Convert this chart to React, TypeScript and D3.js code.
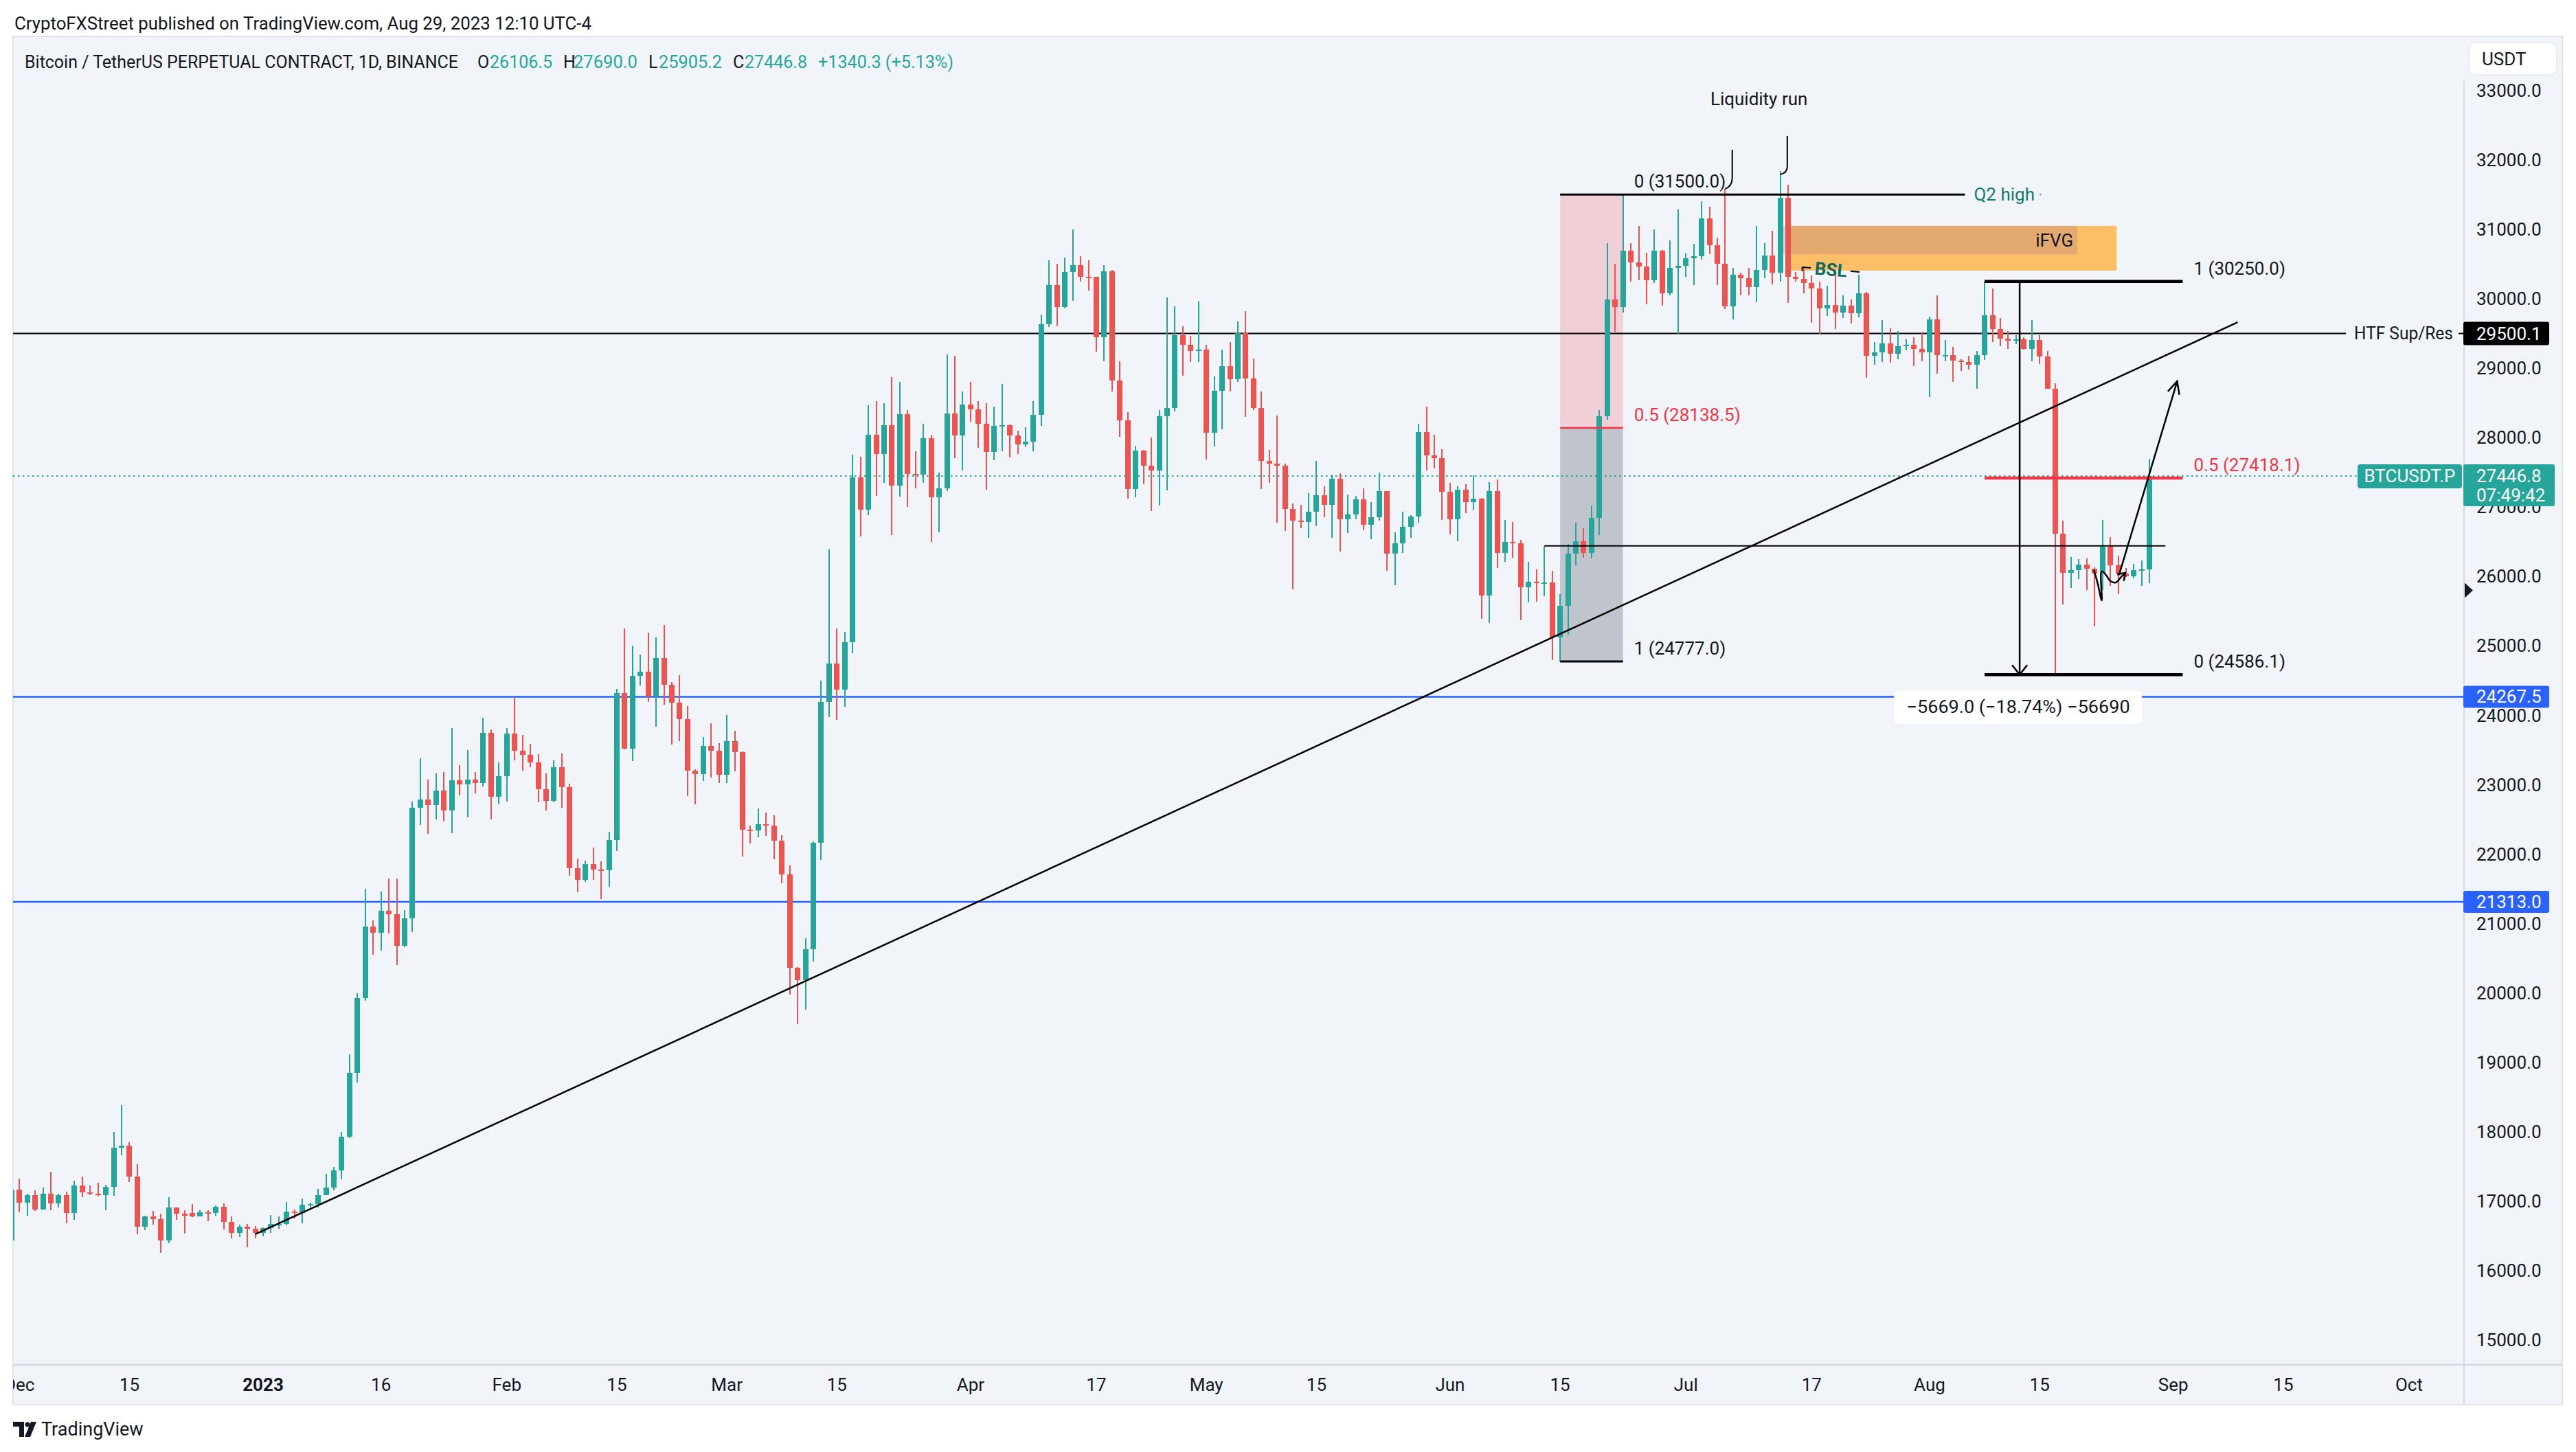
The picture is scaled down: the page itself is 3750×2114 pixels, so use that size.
import React from "react";
import * as d3 from "d3";

type Bar = [number, number, number, number]; // open, high, low, close

const firstDay = "2022-11-30";
const nov2022: Bar[] = [[16440, 17250, 16401, 17165]];
const dec2022: Bar[] = [
  [17165, 17330, 16840, 16978], [16978, 17105, 16790, 17092], [17092, 17158, 16858, 16885],
  [16885, 17202, 16878, 17105], [17105, 17425, 16867, 16966], [16966, 17107, 16906, 17089],
  [17089, 17142, 16678, 16836], [16836, 17299, 16733, 17224], [17224, 17360, 17058, 17128],
  [17128, 17227, 17092, 17110], [17110, 17270, 17071, 17085], [17085, 17241, 16872, 17209],
  [17209, 18000, 17080, 17775], [17775, 18387, 17660, 17804], [17804, 17847, 17275, 17356],
  [17356, 17531, 16527, 16633], [16633, 16796, 16584, 16777], [16777, 16864, 16663, 16739],
  [16739, 16818, 16256, 16439], [16439, 17061, 16398, 16906], [16906, 16906, 16733, 16817],
  [16820, 16866, 16530, 16790], [16830, 16959, 16768, 16778], [16778, 16869, 16777, 16837],
  [16837, 16867, 16713, 16831], [16831, 16944, 16789, 16919], [16919, 16972, 16592, 16706],
  [16706, 16781, 16465, 16548], [16548, 16664, 16488, 16633], [16633, 16677, 16333, 16607],
  [16607, 16644, 16470, 16543],
];
const jan2023: Bar[] = [
  [16543, 16628, 16499, 16616], [16616, 16799, 16548, 16673], [16673, 16779, 16605, 16674],
  [16674, 16991, 16656, 16852], [16852, 16885, 16753, 16828], [16828, 17042, 16680, 16951],
  [16951, 16975, 16908, 16955], [16955, 17176, 16911, 17092], [17092, 17398, 17090, 17196],
  [17196, 17490, 17160, 17446], [17446, 17995, 17320, 17934], [17934, 19117, 17910, 18846],
  [18846, 19995, 18714, 19930], [19930, 21500, 19889, 20954], [20954, 21050, 20551, 20871],
  [20871, 21466, 20611, 21185], [21185, 21650, 20856, 21133], [21133, 21650, 20407, 20677],
  [20677, 21191, 20659, 21072], [21072, 22755, 20881, 22667], [22667, 23378, 22422, 22784],
  [22784, 23078, 22292, 22707], [22707, 23165, 22500, 22917], [22917, 23180, 22467, 22632],
  [22632, 23816, 22300, 23060], [23060, 23282, 22850, 23009], [23009, 23500, 22534, 23074],
  [23074, 23186, 22878, 23023], [23023, 23960, 22976, 23743], [23743, 23800, 22500, 22827],
  [22827, 23320, 22715, 23125],
];
const feb2023: Bar[] = [
  [23125, 23812, 22760, 23733], [23733, 24255, 23352, 23488], [23488, 23715, 23205, 23432],
  [23432, 23590, 23251, 23326], [23326, 23443, 22745, 22933], [22933, 23161, 22625, 22763],
  [22763, 23350, 22745, 23250], [23250, 23453, 22665, 22963], [22963, 23011, 21688, 21796],
  [21796, 21938, 21451, 21625], [21625, 21906, 21599, 21862], [21862, 22090, 21630, 21783],
  [21783, 21894, 21351, 21773], [21773, 22322, 21532, 22200], [22200, 24380, 22048, 24324],
  [24324, 25250, 23505, 23517], [23517, 24999, 23339, 24569], [24569, 24879, 24433, 24631],
  [24631, 25192, 24192, 24271], [24271, 25121, 23840, 24830], [24830, 25300, 24148, 24436],
  [24436, 24476, 23574, 24183], [24183, 24580, 23627, 23947], [23947, 24132, 22841, 23198],
  [23198, 23219, 22722, 23157], [23157, 23689, 23059, 23555], [23555, 23886, 23105, 23492],
  [23492, 23600, 23020, 23141],
];
const mar2023: Bar[] = [
  [23141, 24000, 23020, 23628], [23628, 23780, 23195, 23466], [23466, 23476, 21971, 22354],
  [22354, 22410, 22157, 22346], [22346, 22662, 22247, 22430], [22430, 22602, 22258, 22409],
  [22409, 22557, 21927, 22197], [22197, 22275, 21580, 21705], [21705, 21835, 19974, 20363],
  [20363, 20369, 19549, 20187], [20187, 20792, 19760, 20632], [20632, 22185, 20450, 22163],
  [22163, 24500, 21918, 24197], [24197, 26386, 23976, 24746], [24746, 25250, 23930, 24375],
  [24375, 25198, 24120, 25055], [25055, 27756, 24890, 27423], [27423, 27725, 26578, 26965],
  [26965, 28468, 26888, 28038], [28038, 28528, 27156, 27767], [27767, 28500, 27353, 28175],
  [28175, 28868, 26601, 27308], [27308, 28800, 27154, 28333], [28333, 28400, 27000, 27476],
  [27476, 27800, 27266, 27470], [27470, 28200, 27352, 27994], [27994, 28044, 26500, 27140],
  [27140, 27500, 26631, 27268], [27268, 29200, 27230, 28350], [28350, 29179, 27705, 28033],
  [28033, 28660, 27525, 28478],
];
const apr2023: Bar[] = [
  [28478, 28805, 28226, 28411], [28411, 28530, 27856, 28200], [28200, 28494, 27250, 27790],
  [27790, 28444, 27675, 28168], [28168, 28775, 27805, 28175], [28175, 28190, 27711, 28033],
  [28033, 28100, 27767, 27906], [27906, 28154, 27859, 27938], [27938, 28530, 27800, 28323],
  [28323, 29770, 28170, 29637], [29637, 30550, 29590, 30201], [30201, 30500, 29600, 29884],
  [29884, 30595, 29866, 30387], [30387, 31000, 29966, 30485], [30485, 30610, 30250, 30318],
  [30318, 30549, 30120, 30315], [30315, 30320, 29240, 29445], [29445, 30485, 29100, 30397],
  [30397, 30411, 28660, 28822], [28822, 29096, 28010, 28245], [28245, 28371, 27125, 27262],
  [27262, 27882, 27140, 27817], [27817, 27820, 27331, 27591], [27591, 28000, 26942, 27525],
  [27525, 28400, 27020, 28307], [28307, 30020, 27235, 28422], [28422, 29890, 28381, 29473],
  [29473, 29599, 28891, 29340], [29340, 29463, 29088, 29248], [29248, 29960, 29091, 29268],
];
const may2023: Bar[] = [
  [29268, 29338, 27680, 28068], [28068, 28879, 27872, 28669], [28669, 29266, 28120, 29026],
  [29026, 29379, 28667, 28838], [28838, 29677, 28800, 29506], [29506, 29820, 28300, 28848],
  [28848, 29138, 28395, 28431], [28431, 28664, 27262, 27669], [27669, 27820, 27350, 27628],
  [27628, 28322, 26777, 27599], [27599, 27623, 26655, 26968], [26968, 27055, 25811, 26805],
  [26805, 27030, 26700, 26784], [26784, 27200, 26560, 26930], [26930, 27666, 26721, 27172],
  [27172, 27299, 26856, 27033], [27033, 27466, 26555, 27405], [27405, 27485, 26361, 26821],
  [26821, 27183, 26630, 26890], [26890, 27156, 26825, 27112], [27112, 27265, 26666, 26747],
  [26747, 27074, 26533, 26851], [26851, 27495, 26800, 27225], [27225, 27225, 26080, 26334],
  [26334, 26640, 25871, 26476], [26476, 26932, 26343, 26719], [26719, 26888, 26555, 26868],
  [26868, 28200, 26770, 28085], [28085, 28447, 27524, 27745], [27745, 28040, 27554, 27701],
  [27701, 27834, 26815, 27220],
];
const jun2023: Bar[] = [
  [27220, 27350, 26605, 26820], [26820, 27300, 26511, 27249], [27249, 27333, 26916, 27069],
  [27069, 27455, 26951, 27116], [27116, 27129, 25388, 25728], [25728, 27355, 25333, 27230],
  [27230, 27400, 26123, 26339], [26339, 26810, 26210, 26498], [26498, 26783, 26269, 26477],
  [26477, 26530, 25371, 25841], [25841, 26210, 25631, 25925], [25925, 26098, 25640, 25902],
  [25902, 26440, 25712, 25918], [25918, 26078, 24800, 25125], [25125, 25749, 24777, 25576],
  [25576, 26471, 25160, 26327], [26327, 26777, 26160, 26511], [26511, 26692, 26265, 26338],
  [26338, 27020, 26256, 26844], [26844, 28400, 26600, 28307], [28307, 30800, 28260, 29994],
  [29994, 30500, 29525, 29885], [29885, 31500, 29800, 30688], [30688, 30800, 30250, 30527],
  [30527, 31046, 30270, 30462], [30462, 30662, 29920, 30267], [30267, 31000, 30225, 30689],
  [30689, 30704, 29900, 30077], [30077, 30845, 30050, 30446], [30446, 31282, 29500, 30472],
];
const jul2023: Bar[] = [
  [30472, 30656, 30320, 30585], [30585, 30796, 30200, 30617], [30617, 31400, 30560, 31156],
  [31156, 31325, 30640, 30767], [30767, 30877, 30200, 30505], [30505, 31580, 29850, 29895],
  [29895, 30449, 29700, 30346], [30346, 30380, 30050, 30292], [30292, 30444, 30050, 30171],
  [30171, 31045, 29950, 30414], [30414, 30800, 30300, 30620], [30620, 30983, 30208, 30380],
  [30380, 31840, 30250, 31454], [31454, 31640, 29940, 30312], [30312, 30390, 30250, 30289],
  [30289, 30460, 30075, 30232], [30232, 30336, 29658, 30144], [30144, 30244, 29500, 29859],
  [29859, 30186, 29756, 29910], [29910, 30400, 29560, 29800], [29800, 30050, 29727, 29900],
  [29900, 29988, 29640, 29790], [29790, 30350, 29730, 30083], [30083, 30100, 28861, 29176],
  [29176, 29375, 29047, 29228], [29228, 29690, 29090, 29354], [29354, 29570, 29080, 29210],
  [29210, 29530, 29125, 29314], [29314, 29414, 29260, 29340], [29340, 29450, 29035, 29275],
  [29275, 29525, 29100, 29230],
];
const aug2023: Bar[] = [
  [29230, 29740, 28585, 29705], [29705, 30047, 28921, 29186], [29186, 29409, 29100, 29193],
  [29193, 29312, 28800, 29114], [29114, 29128, 28958, 29085], [29085, 29180, 28981, 29053],
  [29053, 29250, 28700, 29188], [29188, 30250, 29115, 29766], [29766, 30150, 29380, 29562],
  [29562, 29725, 29320, 29427], [29427, 29530, 29280, 29397], [29397, 29480, 29350, 29415],
  [29415, 29449, 29265, 29282], [29282, 29690, 29100, 29408], [29408, 29480, 29060, 29170],
  [29170, 29245, 28700, 28701], [28701, 28780, 24586.1, 26621], [26621, 26800, 25600, 26049],
  [26049, 26280, 25830, 26096], [26096, 26250, 25960, 26170], [26170, 26260, 25800, 26110],
  [26110, 26135, 25280, 26040], [26040, 26810, 25800, 26431], [26431, 26570, 25860, 26163],
  [26163, 26300, 25750, 26047], [26047, 26125, 25990, 26004], [26004, 26180, 25970, 26089],
  [26089, 26230, 25860, 26106.5], [26106.5, 27690, 25905.2, 27446.8],
];
const months: Bar[][] = [nov2022, dec2022, jan2023, feb2023, mar2023, apr2023, may2023, jun2023, jul2023, aug2023];

const priceTicks = [15000, 16000, 17000, 18000, 19000, 20000, 21000, 22000, 23000, 24000,
  25000, 26000, 27000, 28000, 29000, 30000, 31000, 32000, 33000];
const timeTicks: [string, string][] = [
  ["2022-12-01", "Dec"], ["2022-12-15", "15"], ["2023-01-01", "2023"], ["2023-01-16", "16"],
  ["2023-02-01", "Feb"], ["2023-02-15", "15"], ["2023-03-01", "Mar"], ["2023-03-15", "15"],
  ["2023-04-01", "Apr"], ["2023-04-17", "17"], ["2023-05-01", "May"], ["2023-05-15", "15"],
  ["2023-06-01", "Jun"], ["2023-06-15", "15"], ["2023-07-01", "Jul"], ["2023-07-17", "17"],
  ["2023-08-01", "Aug"], ["2023-08-15", "15"], ["2023-09-01", "Sep"], ["2023-09-15", "15"],
  ["2023-10-01", "Oct"],
];

// levels and drawings (x in days since 2023-01-01, y in price)
const htfLevel = 29500.1;
const blueLevels = [24267.5, 21313.0];
const lastPrice = 27446.8;
const markerPrice = 25800;
const rangeLine = { x0: 163, x1: 242, p: 26440 };
const trendPts: [number, number][] = [[-1, 16525], [251.2, 29662]];
const fibA = { x0: 165, x1: 173, ext: 216.5, levels: [31500, 28138.5, 24777], labels: ["0 (31500.0)", "0.5 (28138.5)", "1 (24777.0)"] };
const fibB = { x0: 219, x1: 244.2, levels: [30250, 27418.1, 24586.1], labels: ["1 (30250.0)", "0.5 (27418.1)", "0 (24586.1)"] };
const measure = { x: 223.46, top: 30250, bottom: 24586.1, label: "\u22125669.0 (\u221218.74%) \u221256690" };
const ifvgOuter = { x0: 194, x1: 235.8, top: 31050, bottom: 30405 };
const ifvgInner = { x0: 193, x1: 230.8, top: 31050, bottom: 30643 };
const bslPts: [number, number][] = [[195.8, 30455], [203.1, 30386]];
const liqText: [number, number] = [190.3, 32879];
const bracketA: [number, number][] = [[186.9, 32146], [186.9, 31741], [186.0, 31583]];
const bracketB: [number, number][] = [[193.9, 32344], [193.9, 31909], [193.0, 31790]];
const arrowPts: [number, number][] = [[236.1, 26022], [243.5, 28812]];
const squiggle: [number, number][] = [
  [232.9, 26092], [233.4, 25894], [233.9, 25656], [233.9, 26072], [234.5, 26013],
  [235.0, 25933], [235.7, 25914], [236.3, 25983], [236.9, 26052],
];

const W = 3750, H = 2114;
const PL = 19, PT = 53, PR = 3587, PB = 1987, PANEL_R = 3730, PANEL_B = 2045;
const UP = "#26A69A", DN = "#EF5350", INK = "#131722", BLUE = "#2962FF", FRED = "#F23645", TEALTXT = "#127A6B";
const BG = "#F1F5FA";
const FONT = "Roboto, 'Noto Sans', Arial, sans-serif";
const DAY = 864e5;
const JAN1 = Date.UTC(2023, 0, 1);
const parse = (s: string) => new Date(s + "T00:00:00Z");

export default function App() {
  const x = d3.scaleUtc().domain([parse("2023-01-01"), parse("2023-10-01")]).range([383, 3507]);
  const y = d3.scaleLinear().domain([15000, 33000]).range([1951.1, 131.74]);
  const X = (n: number) => x(new Date(JAN1 + n * DAY));
  const start = parse(firstDay).getTime();
  const candles = months.flat().map((b, i) => ({ d: new Date(start + i * DAY), o: b[0], h: b[1], l: b[2], c: b[3] }));
  const bw = 8;
  const fmt = d3.format(".1f");

  const line = d3.line<[number, number]>().x((p) => X(p[0])).y((p) => y(p[1]));
  const squigglePath = d3.line<[number, number]>().x((p) => X(p[0])).y((p) => y(p[1])).curve(d3.curveCatmullRom)(squiggle) || "";

  // arrowhead helper
  const head = (x1: number, y1: number, x2: number, y2: number, len: number, ang: number) => {
    const a = Math.atan2(y1 - y2, x1 - x2);
    const p1 = [x2 + len * Math.cos(a + ang), y2 + len * Math.sin(a + ang)];
    const p2 = [x2 + len * Math.cos(a - ang), y2 + len * Math.sin(a - ang)];
    return `M${p1[0]},${p1[1]} L${x2},${y2} L${p2[0]},${p2[1]}`;
  };
  const ax1 = X(arrowPts[0][0]), ay1 = y(arrowPts[0][1]), ax2 = X(arrowPts[1][0]), ay2 = y(arrowPts[1][1]);
  const sqEnd = squiggle[squiggle.length - 1], sqPrev = squiggle[squiggle.length - 3];

  const bslX0 = X(bslPts[0][0]), bslY0 = y(bslPts[0][1]), bslX1 = X(bslPts[1][0]), bslY1 = y(bslPts[1][1]);
  const lerp = (t: number) => [bslX0 + (bslX1 - bslX0) * t, bslY0 + (bslY1 - bslY0) * t];
  const bslAng = (Math.atan2(bslY1 - bslY0, bslX1 - bslX0) * 180) / Math.PI;
  const bslMid = lerp(0.5);

  const bracket = (pts: [number, number][]) => {
    const [a, b, c] = pts;
    return `M${X(a[0])},${y(a[1])} L${X(b[0])},${y(b[1])} Q${X(b[0])},${(y(b[1]) + y(c[1])) / 2 + 4} ${X(c[0])},${y(c[1])}`;
  };

  const mx = X(measure.x), myT = y(measure.top), myB = y(measure.bottom);
  const htfY = y(htfLevel), lastY = y(lastPrice);

  return (
    <svg width={W} height={H} viewBox={`0 0 ${W} ${H}`} style={{ display: "block", position: "absolute", left: 0, top: 0 }} fontFamily={FONT}>
      <defs>
        <clipPath id="plot"><rect x={PL} y={PT} width={PR - PL} height={PB - PT} /></clipPath>
        <clipPath id="taxis"><rect x={PL} y={PB} width={PR - PL} height={PANEL_B - PB} /></clipPath>
      </defs>
      <rect x={0} y={0} width={W} height={H} fill="#ffffff" />
      <text x={21} y={43} fontSize={25} fill={INK} textLength={840} lengthAdjust="spacingAndGlyphs">CryptoFXStreet published on TradingView.com, Aug 29, 2023 12:10 UTC-4</text>

      {/* panel */}
      <rect x={PL} y={PT} width={PANEL_R - PL} height={PANEL_B - PT} fill={BG} stroke="#E0E3EB" strokeWidth={2} />

      <g clipPath="url(#plot)">
        {/* fib A boxes */}
        <rect x={X(fibA.x0)} y={y(fibA.levels[0])} width={X(fibA.x1) - X(fibA.x0)} height={y(fibA.levels[1]) - y(fibA.levels[0])} fill="rgba(242,54,69,0.2)" />
        <rect x={X(fibA.x0)} y={y(fibA.levels[1])} width={X(fibA.x1) - X(fibA.x0)} height={y(fibA.levels[2]) - y(fibA.levels[1])} fill="rgba(120,123,134,0.4)" />
        {/* iFVG */}
        <rect x={X(ifvgOuter.x0)} y={y(ifvgOuter.top)} width={X(ifvgOuter.x1) - X(ifvgOuter.x0)} height={y(ifvgOuter.bottom) - y(ifvgOuter.top)} fill="#FCBE66" />
        <rect x={X(ifvgInner.x0)} y={y(ifvgInner.top)} width={X(ifvgInner.x1) - X(ifvgInner.x0)} height={y(ifvgInner.bottom) - y(ifvgInner.top)} fill="rgba(141,95,140,0.22)" />
        <text x={X(ifvgInner.x1) - 6} y={(y(ifvgInner.top) + y(ifvgInner.bottom)) / 2} dy="0.35em" textAnchor="end" fontSize={26} fill={INK}>iFVG</text>

        {/* horizontal levels */}
        {blueLevels.map((p) => (
          <line key={p} x1={PL} x2={PR} y1={y(p)} y2={y(p)} stroke={BLUE} strokeWidth={2.5} />
        ))}
        <line x1={PL} x2={3415} y1={htfY} y2={htfY} stroke="#000" strokeWidth={2} />
        <line x1={3579} x2={PR} y1={htfY} y2={htfY} stroke="#000" strokeWidth={2} />
        <text x={3427} y={htfY} dy="0.35em" fontSize={25} fill={INK} textLength={144} lengthAdjust="spacingAndGlyphs">HTF Sup/Res</text>
        <line x1={PL} x2={3432} y1={lastY} y2={lastY} stroke={UP} strokeWidth={2} strokeDasharray="2.5 4.5" />

        {/* candles */}
        <g shapeRendering="crispEdges">
          {candles.map((k, i) => {
            const cx = Math.round(x(k.d));
            const col = k.c >= k.o ? UP : DN;
            const top = y(Math.max(k.o, k.c));
            const bot = y(Math.min(k.o, k.c));
            return (
              <g key={i}>
                <rect x={cx - 1} y={y(k.h)} width={2} height={Math.max(1, y(k.l) - y(k.h))} fill={col} />
                <rect x={cx - bw / 2} y={top} width={bw} height={Math.max(2, bot - top)} fill={col} />
              </g>
            );
          })}
        </g>

        {/* range high line */}
        <line x1={X(rangeLine.x0)} x2={X(rangeLine.x1)} y1={y(rangeLine.p)} y2={y(rangeLine.p)} stroke="#000" strokeWidth={2} />
        {/* trendline */}
        <path d={line(trendPts) || ""} stroke="#000" strokeWidth={2.5} fill="none" />

        {/* fib A lines & labels */}
        <line x1={X(fibA.x0)} x2={X(fibA.ext)} y1={y(fibA.levels[0])} y2={y(fibA.levels[0])} stroke="#000" strokeWidth={3} />
        <line x1={X(fibA.x0)} x2={X(fibA.x1)} y1={y(fibA.levels[1])} y2={y(fibA.levels[1])} stroke={FRED} strokeWidth={2.5} />
        <line x1={X(fibA.x0)} x2={X(fibA.x1)} y1={y(fibA.levels[2])} y2={y(fibA.levels[2])} stroke="#000" strokeWidth={3} />
        {fibA.levels.map((p, i) => (
          <text key={i} x={X(fibA.x1) + 16} y={y(p) - 19} dy="0.35em" fontSize={26} fill={i === 1 ? FRED : INK}>{fibA.labels[i]}</text>
        ))}
        <text x={X(fibA.ext) + 13} y={y(fibA.levels[0])} dy="0.35em" fontSize={26} fill={TEALTXT}>Q2 high</text>
        <circle cx={X(fibA.ext) + 110} cy={y(fibA.levels[0])} r={1.5} fill="#9AA3AD" />

        {/* fib B lines & labels */}
        {fibB.levels.map((p, i) => (
          <g key={i}>
            <line x1={X(fibB.x0)} x2={X(fibB.x1)} y1={y(p)} y2={y(p)} stroke={i === 1 ? FRED : "#000"} strokeWidth={4.5} />
            <text x={X(fibB.x1) + 16} y={y(p) - 19} dy="0.35em" fontSize={26} fill={i === 1 ? FRED : INK}>{fibB.labels[i]}</text>
          </g>
        ))}

        {/* measurement */}
        <line x1={mx} x2={mx} y1={myT} y2={myB} stroke="#000" strokeWidth={2.5} />
        <path d={`M${mx - 11},${myB - 14} L${mx},${myB} L${mx + 11},${myB - 14}`} stroke="#000" strokeWidth={2.5} fill="none" />
        <rect x={mx - 183} y={myB + 23} width={361} height={48} rx={7} fill="#ffffff" />
        <text x={mx - 2} y={myB + 47} dy="0.35em" textAnchor="middle" fontSize={26} fill={INK} textLength={325} lengthAdjust="spacingAndGlyphs">{measure.label}</text>

        {/* BSL */}
        <line x1={bslX0} y1={bslY0} x2={lerp(0.15)[0]} y2={lerp(0.15)[1]} stroke="#000" strokeWidth={2} />
        <line x1={lerp(0.84)[0]} y1={lerp(0.84)[1]} x2={bslX1} y2={bslY1} stroke="#000" strokeWidth={2} />
        <line x1={bslX0} y1={bslY0} x2={bslX0} y2={bslY0 + 6} stroke="#000" strokeWidth={2} />
        <text x={bslMid[0]} y={bslMid[1]} dy="0.35em" textAnchor="middle" fontSize={26} fontWeight={700} fill="#0B6B5E" transform={`rotate(${bslAng} ${bslMid[0]} ${bslMid[1]})`}>BSL</text>

        {/* liquidity run */}
        <text x={X(liqText[0])} y={y(liqText[1])} dy="0.35em" textAnchor="middle" fontSize={26} fill={INK}>Liquidity run</text>
        <path d={bracket(bracketA)} stroke="#000" strokeWidth={2} fill="none" />
        <path d={bracket(bracketB)} stroke="#000" strokeWidth={2} fill="none" />

        {/* projection arrow and squiggle */}
        <line x1={ax1} y1={ay1} x2={ax2} y2={ay2} stroke="#000" strokeWidth={2.5} />
        <path d={head(ax1, ay1, ax2, ay2, 20, 0.45)} stroke="#000" strokeWidth={2.5} fill="none" />
        <path d={squigglePath} stroke="#000" strokeWidth={2.5} fill="none" />
        <path d={head(X(sqPrev[0]), y(sqPrev[1]), X(sqEnd[0]), y(sqEnd[1]), 12, 0.6)} stroke="#000" strokeWidth={2.5} fill="none" />
      </g>

      {/* axes separators */}
      <line x1={PL} x2={PANEL_R} y1={PB} y2={PB} stroke="#D5DAE1" strokeWidth={3} />
      <line x1={PR} x2={PR} y1={118} y2={PANEL_B} stroke="#D5DAE1" strokeWidth={2} />

      {/* price axis */}
      {priceTicks.map((p) => (
        <text key={p} x={3605} y={y(p)} dy="0.35em" fontSize={26} fill={INK}>{fmt(p)}</text>
      ))}
      <rect x={3594} y={62} width={128} height={47} rx={10} fill="#ffffff" stroke="#E6E9EF" strokeWidth={1.5} />
      <text x={3613} y={86} dy="0.35em" fontSize={26} fill={INK}>USDT</text>

      <rect x={3586} y={htfY - 17} width={125} height={34} rx={3} fill="#000000" />
      <text x={3605} y={htfY} dy="0.35em" fontSize={26} fill="#ffffff">{htfLevel.toFixed(1)}</text>
      {blueLevels.map((p) => (
        <g key={p}>
          <rect x={3586} y={y(p) - 16} width={125} height={32} rx={3} fill={BLUE} />
          <text x={3605} y={y(p)} dy="0.35em" fontSize={26} fill="#ffffff">{p.toFixed(1)}</text>
        </g>
      ))}
      <rect x={3432} y={lastY - 17} width={152} height={35} rx={4} fill={UP} />
      <text x={3508} y={lastY} dy="0.35em" textAnchor="middle" fontSize={26} fill="#ffffff">BTCUSDT.P</text>
      <rect x={3586} y={lastY - 17} width={133} height={61} rx={3} fill={UP} />
      <text x={3605} y={lastY} dy="0.35em" fontSize={26} fill="#ffffff">{lastPrice.toFixed(1)}</text>
      <text x={3605} y={lastY + 28} dy="0.35em" fontSize={26} fill="#ffffff">07:49:42</text>
      <path d={`M${PR + 1},${y(markerPrice) - 11} L${PR + 13},${y(markerPrice)} L${PR + 1},${y(markerPrice) + 11} Z`} fill={INK} />

      {/* time axis */}
      <g clipPath="url(#taxis)">
        {timeTicks.map(([d, t]) => (
          <text key={d} x={x(parse(d))} y={2016} dy="0.35em" textAnchor="middle" fontSize={26} fontWeight={t === "2023" ? 700 : 400} fill={INK}>{t}</text>
        ))}
      </g>

      {/* legend */}
      <text y={90} dy="0.35em" fontSize={25} fill={INK}>
        <tspan x={36} textLength={631} lengthAdjust="spacingAndGlyphs">Bitcoin / TetherUS PERPETUAL CONTRACT, 1D, BINANCE</tspan>
        <tspan x={695}>O</tspan>
        <tspan x={713} fill={UP} textLength={91} lengthAdjust="spacingAndGlyphs">26106.5</tspan>
        <tspan x={820}>H</tspan>
        <tspan x={835} fill={UP} textLength={93} lengthAdjust="spacingAndGlyphs">27690.0</tspan>
        <tspan x={944}>L</tspan>
        <tspan x={959} fill={UP} textLength={92} lengthAdjust="spacingAndGlyphs">25905.2</tspan>
        <tspan x={1067}>C</tspan>
        <tspan x={1084} fill={UP} textLength={91} lengthAdjust="spacingAndGlyphs">27446.8</tspan>
        <tspan x={1191} fill={UP} textLength={197} lengthAdjust="spacingAndGlyphs">+1340.3 (+5.13%)</tspan>
      </text>

      {/* footer logo */}
      <g fill={INK}>
        <path d="M19,2070 h16 v22 h-7 v-15 h-9 z" />
        <circle cx={40} cy={2074} r={3.5} />
        <path d="M45,2070 h8 l-9,22 h-8 z" />
      </g>
      <text x={60} y={2081} dy="0.35em" fontSize={27} fill={INK}>TradingView</text>
    </svg>
  );
}
